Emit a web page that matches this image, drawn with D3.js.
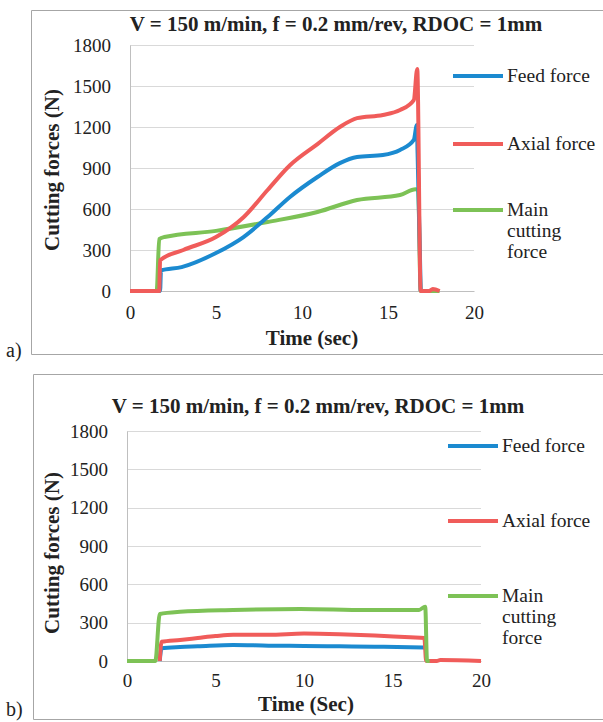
<!DOCTYPE html>
<html>
<head>
<meta charset="utf-8">
<script src="https://cdn.jsdelivr.net/npm/d3@7"></script>
<style>
  body { margin: 0; background: #fff; }
</style>
</head>
<body>
<div id="chart"></div>
<script>
const serif = '"Liberation Serif", Tinos, "Times New Roman", Times, "Nimbus Roman", "DejaVu Serif", "Noto Serif", serif';

// tick values
const yTicks = [0, 300, 600, 900, 1200, 1500, 1800];
const xTicks = [0, 5, 10, 15, 20];
const seriesNames = ['Feed force', 'Axial force', 'Main cutting force'];
const colors = ['#1b8ad0', '#f05c5a', '#7dc256'];

// panel a) data
const aFeedT = [0, 1.75, 1.8, 3, 5, 6.6, 8, 9.3, 10.9, 12.2, 13.2, 14.7, 15.7, 16.5, 16.68, 16.72, 16.85, 16.9];
const aFeedV = [0, 0, 150, 175, 278, 395, 541, 688, 834, 936, 980, 995, 1032, 1105, 1215, 1010, 300, 0];
const aAxialT = [0, 1.7, 1.75, 3.1, 5, 6.6, 8, 9.3, 10.9, 12.2, 13.2, 14.7, 15.7, 16.5, 16.7, 16.9, 17.4, 17.6, 18];
const aAxialV = [0, 0, 225, 300, 395, 540, 739, 920, 1075, 1200, 1265, 1288, 1324, 1397, 1625, 0, 0, 15, 0];
const aMainT = [0, 1.55, 1.7, 2, 5, 8, 10.9, 13.2, 15.7, 16.6, 16.75, 16.9, 17, 18];
const aMainV = [0, 0, 380, 395, 440, 505, 578, 666, 702, 745, 740, 0, 0, 0];

// panel b) data
const bFeedT = [1.85, 1.95, 3, 4, 6, 8, 10, 12, 14, 16, 16.8];
const bFeedV = [0, 100, 110, 115, 125, 120, 118, 115, 112, 108, 105];
const bAxialT = [1.85, 1.95, 3, 4, 5, 6, 8, 10, 12, 14, 16, 16.8, 16.9, 17.5, 17.7, 20];
const bAxialV = [0, 150, 165, 180, 195, 205, 205, 215, 210, 200, 185, 180, 0, 0, 8, 0];
const bMainT = [0, 1.6, 1.85, 3, 6, 9.8, 13.5, 16.5, 16.85, 16.95, 17.1];
const bMainV = [0, 0, 368, 385, 399, 407, 399, 400, 425, 0, 0];

const svg = d3.select('#chart').append('svg')
  .attr('width', 603)
  .attr('height', 722)
  .style('font-family', serif);

svg.append('rect').attr('width', 603).attr('height', 722).attr('fill', '#fff');

const zip = (t, v) => t.map((d, i) => ({ t: d, v: v[i] }));

const drawPanel = (p) => {
  const g = svg.append('g');

  // frame around the panel
  g.append('path')
    .attr('d', `M603,${p.frame[1]}H${p.frame[0]}V${p.frame[2]}H603`)
    .attr('fill', 'none')
    .attr('stroke', '#a6a6a6');

  g.append('text')
    .attr('x', 6).attr('y', p.tag[1])
    .style('font-family', serif)
    .style('font-size', '20px')
    .attr('fill', '#222')
    .text(p.tag[0]);

  const x = d3.scaleLinear().domain([0, 20]).range(p.xr);
  const y = d3.scaleLinear().domain([0, 1800]).range(p.yr);

  // gridlines
  g.append('g').selectAll('line')
    .data(yTicks.slice(1))
    .enter()
    .append('line')
    .attr('x1', p.xr[0]).attr('x2', p.xr[1])
    .attr('y1', (d) => Math.round(y(d)) + 0.5)
    .attr('y2', (d) => Math.round(y(d)) + 0.5)
    .attr('stroke', '#d9d9d9');

  const yAxis = g.append('g')
    .attr('transform', `translate(${p.xr[0]},0)`)
    .call(d3.axisLeft(y).tickValues(yTicks).tickFormat(d3.format('d')).tickSize(0).tickPadding(19));
  yAxis.attr('font-family', null);
  yAxis.select('.domain').attr('stroke', '#bfbfbf');
  yAxis.selectAll('text').style('font-family', serif).style('font-size', '19px').attr('fill', '#222');

  const xAxis = g.append('g')
    .attr('transform', `translate(0,${p.yr[0]})`)
    .call(d3.axisBottom(x).tickValues(xTicks).tickSize(0).tickPadding(p.xPad));
  xAxis.attr('font-family', null);
  xAxis.select('.domain').attr('stroke', '#bfbfbf');
  xAxis.selectAll('text').style('font-family', serif).style('font-size', '19px').attr('fill', '#222');

  const line = d3.line().curve(d3.curveMonotoneX).x((d) => x(d.t)).y((d) => y(d.v));

  p.series.forEach((s) => {
    g.append('path')
      .datum(zip(s[0], s[1]))
      .attr('d', line)
      .attr('fill', 'none')
      .attr('stroke', colors[s[2]])
      .attr('stroke-width', 4)
      .attr('stroke-linejoin', 'round');
  });

  // titles
  g.append('text')
    .attr('x', p.title[0]).attr('y', p.title[1])
    .attr('text-anchor', 'middle')
    .attr('fill', '#222')
    .style('font-family', serif)
    .style('font-size', '21px').style('font-weight', 'bold')
    .text('V = 150 m/min, f = 0.2 mm/rev, RDOC = 1mm');

  g.append('text')
    .attr('x', p.xTitle[0]).attr('y', p.xTitle[1])
    .attr('text-anchor', 'middle')
    .attr('fill', '#222')
    .style('font-family', serif)
    .style('font-size', '21px').style('font-weight', 'bold')
    .text(p.xLabel);

  g.append('text')
    .attr('transform', `translate(${p.yTitle[0]},${p.yTitle[1]}) rotate(-90)`)
    .attr('text-anchor', 'middle')
    .attr('fill', '#222')
    .style('font-family', serif)
    .style('font-size', '21px').style('font-weight', 'bold')
    .text('Cutting forces (N)');

  // legend
  const lg = g.append('g').selectAll('g')
    .data(seriesNames)
    .enter()
    .append('g')
    .attr('transform', (d, i) => `translate(${p.leg[0]},${p.leg[1][i]})`);
  lg.append('line')
    .attr('x1', 0).attr('x2', 50)
    .attr('stroke', (d, i) => colors[i])
    .attr('stroke-width', 4);
  lg.append('text')
    .attr('x', 54).attr('y', 6)
    .attr('fill', '#222')
    .style('font-family', serif)
    .style('font-size', '19.5px')
    .selectAll('tspan')
    .data((d) => (d === 'Main cutting force' ? ['Main', 'cutting', 'force'] : [d]))
    .enter()
    .append('tspan')
    .attr('x', 54)
    .attr('dy', (d, i) => (i ? 21 : 0))
    .text((d) => d);
};

drawPanel({
  frame: [31.5, 10.5, 354.5],
  tag: ['a)', 357],
  xr: [130, 474],
  yr: [291, 45],
  xPad: 15,
  title: [336, 31],
  xTitle: [312, 345],
  xLabel: 'Time (sec)',
  yTitle: [59, 170],
  leg: [453, [76, 144, 210]],
  series: [[aMainT, aMainV, 2], [aFeedT, aFeedV, 0], [aAxialT, aAxialV, 1]],
});

drawPanel({
  frame: [33.5, 374.5, 719.5],
  tag: ['b)', 716],
  xr: [127, 481],
  yr: [661, 431],
  xPad: 13,
  title: [318, 413],
  xTitle: [306, 711],
  xLabel: 'Time (Sec)',
  yTitle: [59, 553],
  leg: [448, [446, 521, 596]],
  series: [[bFeedT, bFeedV, 0], [bAxialT, bAxialV, 1], [bMainT, bMainV, 2]],
});
</script>
</body>
</html>
